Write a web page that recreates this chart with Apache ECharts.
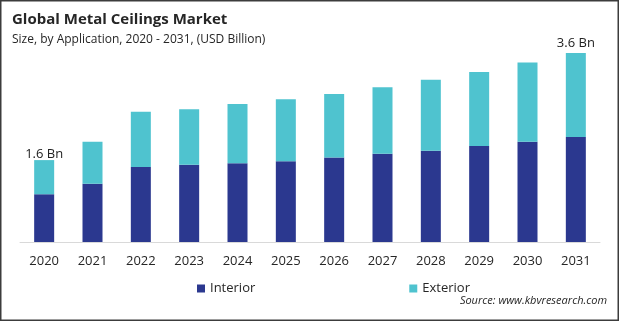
<!DOCTYPE html>
<html>
<head>
<meta charset="utf-8">
<script src="https://cdn.jsdelivr.net/npm/echarts@6/dist/echarts.min.js"></script>
<style>
html,body{margin:0;padding:0;background:#fff;}
#chart{width:620px;height:322px;}
</style>
</head>
<body>
<div id="chart"></div>
<script>
const years = ['2020','2021','2022','2023','2024','2025','2026','2027','2028','2029','2030','2031'];
const interior = [0.91, 1.11, 1.43, 1.47, 1.50, 1.54, 1.61, 1.68, 1.74, 1.83, 1.91, 2.00];
const exterior = [0.65, 0.80, 1.05, 1.06, 1.13, 1.18, 1.21, 1.27, 1.35, 1.41, 1.51, 1.60];
const totalLabels = {0: '1.6 Bn', 11: '3.6 Bn'};

const font = '"Open Sans", "Noto Sans", sans-serif';
const chart = echarts.init(document.getElementById('chart'), null, {renderer: 'canvas'});

const extData = exterior.map((v, i) => {
  if (totalLabels[i]) {
    return {value: v, label: {show: true, position: 'top', distance: i === 0 ? -1 : 3,
      formatter: totalLabels[i], color: '#222', fontSize: 13, fontFamily: font}};
  }
  return v;
});

chart.setOption({
  animation: false,
  backgroundColor: '#fff',
  title: [
    {text: 'Global Metal Ceilings Market', left: 12, top: 12, padding: 0,
     textStyle: {fontFamily: font, fontWeight: 'bold', fontSize: 15, color: '#262626'}},
    {text: 'Size, by Application, 2020 - 2031, (USD Billion)', left: 12, top: 34, padding: 0,
     textStyle: {fontFamily: font, fontWeight: 'normal', fontSize: 12, color: '#262626'}}
  ],
  grid: {left: 20, right: 20, top: 32, bottom: 80, containLabel: false},
  legend: {
    left: 192, top: 277, itemWidth: 8, itemHeight: 8, itemGap: 154,
    icon: 'rect',
    textStyle: {fontFamily: font, fontSize: 13, color: '#262626'},
    data: ['Interior', 'Exterior']
  },
  xAxis: {
    type: 'category', data: years,
    axisLine: {lineStyle: {color: '#d9d9d9', width: 1}},
    axisTick: {show: false},
    axisLabel: {fontFamily: font, fontSize: 13, color: '#262626', margin: 13}
  },
  yAxis: {type: 'value', min: 0, max: 4, show: false, splitLine: {show: false}},
  series: [
    {name: 'Interior', type: 'bar', stack: 'total', barWidth: 20,
     itemStyle: {color: '#2b388f'}, data: interior},
    {name: 'Exterior', type: 'bar', stack: 'total', barWidth: 20,
     itemStyle: {color: '#4fc3cf'}, data: extData}
  ],
  graphic: [
    {type: 'text', right: 13, top: 295,
     style: {text: 'Source: www.kbvresearch.com', font: 'italic 11px ' + font, fill: '#262626'}},
    {type: 'rect', shape: {x: 0.75, y: 0.75, width: 617.5, height: 319.5},
     style: {fill: 'none', stroke: '#3c3c3c', lineWidth: 1.5}, silent: true}
  ]
});
</script>
</body>
</html>
